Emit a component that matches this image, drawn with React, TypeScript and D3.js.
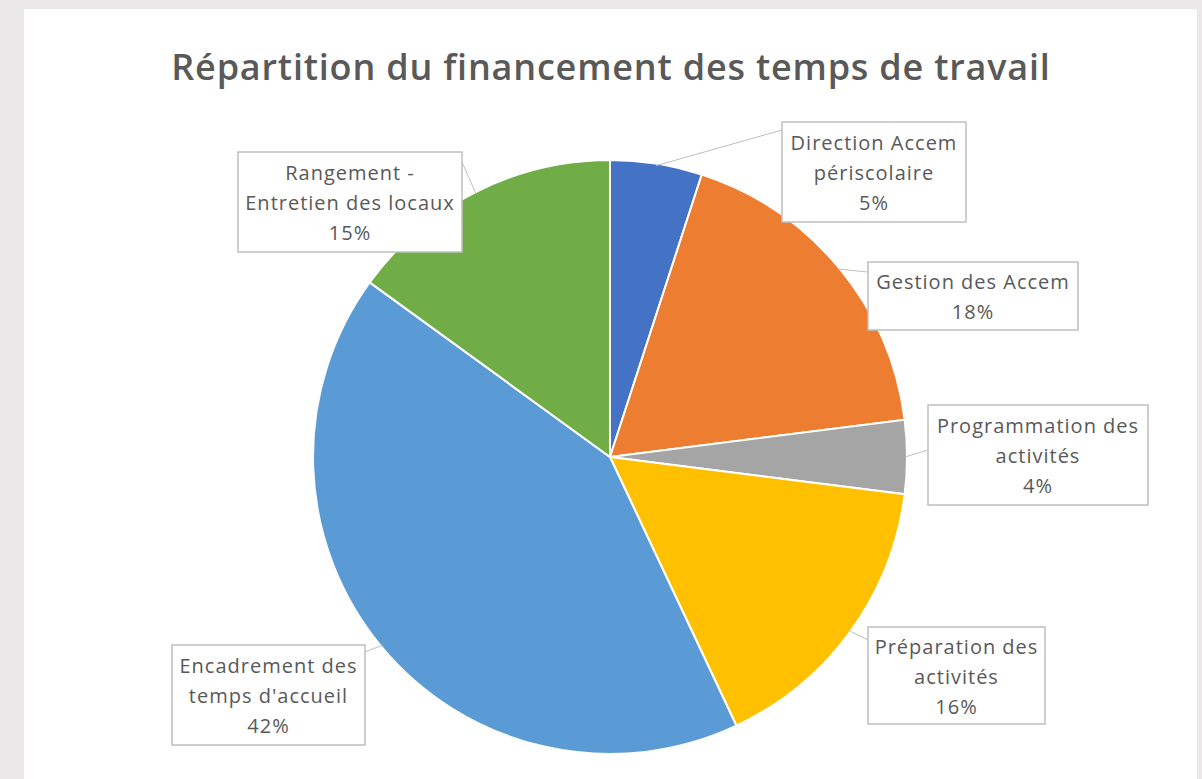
import React from "react";
import * as d3 from "d3";

const categories = [
  "Direction Accem périscolaire",
  "Gestion des Accem",
  "Programmation des activités",
  "Préparation des activités",
  "Encadrement des temps d'accueil",
  "Rangement - Entretien des locaux",
];
const values = [5, 18, 4, 16, 42, 15];
const labelLines = [
  ["Direction Accem", "périscolaire"],
  ["Gestion des Accem"],
  ["Programmation des", "activités"],
  ["Préparation des", "activités"],
  ["Encadrement des", "temps d'accueil"],
  ["Rangement -", "Entretien des locaux"],
];
const colors = ["#4472C4", "#ED7D31", "#A5A5A5", "#FFC000", "#5B9BD5", "#70AD47"];
const title = "Répartition du financement des temps de travail";

// label box layout [x, y, w, h]
const boxes: [number, number, number, number][] = [
  [782, 122, 184, 100],
  [868, 262, 210, 68],
  [928, 405, 220, 100],
  [868, 627, 177, 97],
  [172, 645, 193, 100],
  [238, 152, 224, 100],
];
// where the leader meets the box
const attach: [number, number][] = [
  [782, 130],
  [868, 272],
  [928, 450],
  [868, 640],
  [365, 652],
  [462, 162],
];

const W = 1202;
const H = 779;
const cx = 610;
const cy = 457;
const R = 297;

export default function App() {
  const total = d3.sum(values);
  const pie = d3.pie<number>().sort(null).value((d) => d)(values);
  const arc = d3.arc<d3.PieArcDatum<number>>().innerRadius(0).outerRadius(R);
  const fmt = d3.format(".0%");
  const font = "'Open Sans', sans-serif";

  return (
    <svg width={W} height={H} style={{ position: "fixed", left: 0, top: 0 }} fontFamily={font}>
      <rect x={0} y={0} width={W} height={H} fill="#ebe8e9" />
      <rect x={24} y={9} width={1173} height={H - 9} fill="#ffffff" />
      <text x={611} y={80} textAnchor="middle" fontSize={36} fontWeight={600} fill="#595959" letterSpacing={0.8}>
        {title}
      </text>
      <g transform={`translate(${cx},${cy})`}>
        {pie.map((p, i) => (
          <path key={categories[i]} d={arc(p) || ""} fill={colors[i]} stroke="#ffffff" strokeWidth={2} />
        ))}
      </g>
      {pie.map((p, i) => {
        const mid = (p.startAngle + p.endAngle) / 2;
        const ax = cx + Math.sin(mid) * (R - 2);
        const ay = cy - Math.cos(mid) * (R - 2);
        const [bx, by, bw, bh] = boxes[i];
        const [px, py] = attach[i];
        const lines = [...labelLines[i], fmt(values[i] / total)];
        const lh = 30;
        const tx = bx + bw / 2;
        const ty0 = by + bh / 2 - ((lines.length - 1) * lh) / 2 + 8;
        return (
          <g key={"l" + i}>
            <line x1={ax} y1={ay} x2={px} y2={py} stroke="#bfbfbf" strokeWidth={1} />
            <rect x={bx} y={by} width={bw} height={bh} fill="#ffffff" stroke="#bfbfbf" strokeWidth={1.5} />
            {lines.map((t, j) => (
              <text key={j} x={tx} y={ty0 + j * lh} textAnchor="middle" fontSize={20} letterSpacing={1} fill="#595959">
                {t}
              </text>
            ))}
          </g>
        );
      })}
    </svg>
  );
}
